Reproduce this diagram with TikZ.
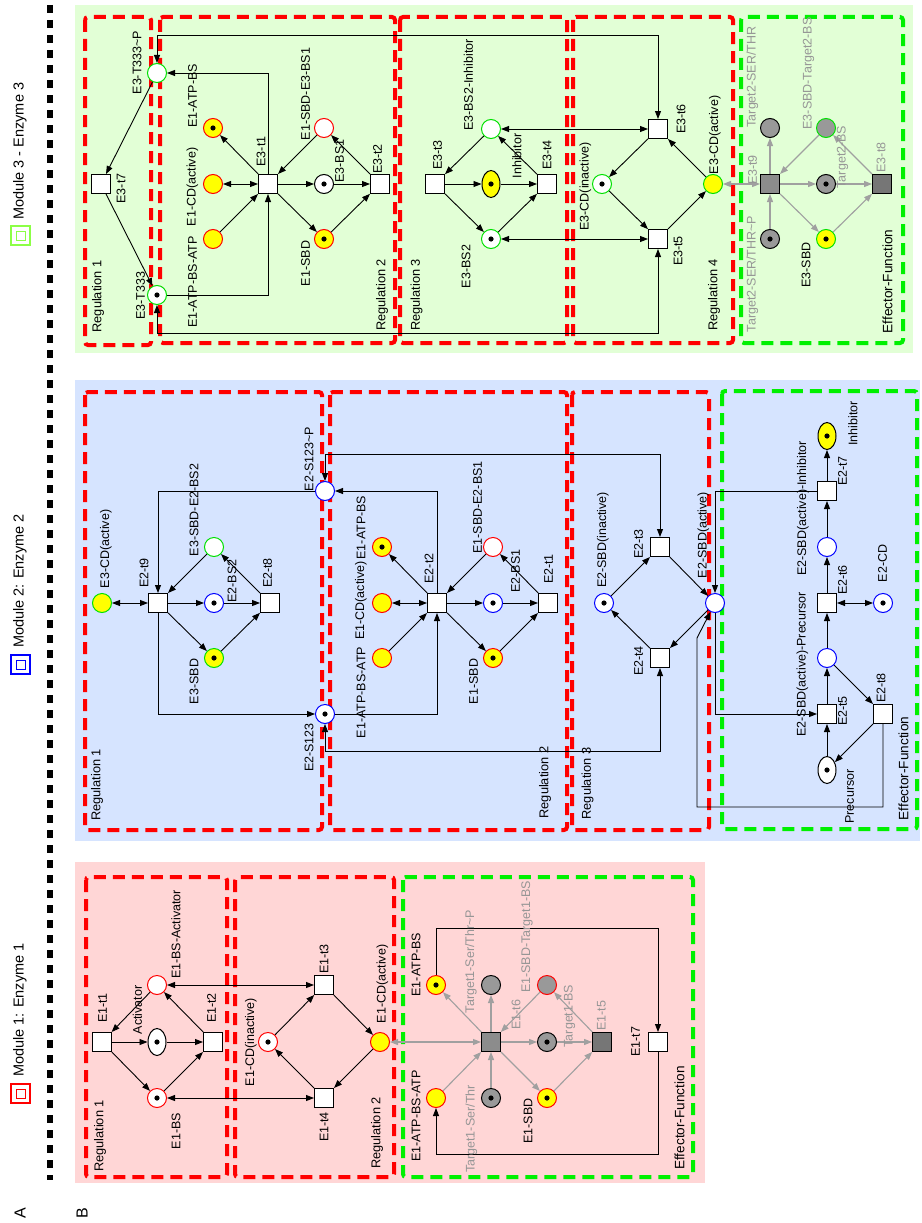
\documentclass[tikz,border=0pt]{standalone}
\usepackage{fontspec}
\setmainfont{Liberation Sans}
\usetikzlibrary{arrows.meta,shapes.geometric}
\definecolor{bgP}{RGB}{255,214,214}
\definecolor{bgB}{RGB}{214,228,255}
\definecolor{bgG}{RGB}{226,255,214}
\definecolor{cRed}{RGB}{255,0,0}
\definecolor{cGrn}{RGB}{0,225,0}
\definecolor{cBoxG}{RGB}{0,240,0}
\definecolor{cBlu}{RGB}{0,0,255}
\definecolor{cYel}{RGB}{255,255,0}
\definecolor{cGfill}{RGB}{153,153,153}
\definecolor{cGtr}{RGB}{140,140,140}
\definecolor{cGtrD}{RGB}{118,118,118}
\definecolor{cGarc}{RGB}{160,160,160}
\definecolor{cGlab}{RGB}{150,150,150}
\definecolor{cLeg}{RGB}{140,255,70}
\newcommand{\tld}{\textasciitilde}
\tikzset{
 pl/.style={circle,draw,line width=1pt,minimum size=19pt,inner sep=0pt,fill=white},
 tok/.style={path picture={\fill[black] (path picture bounding box.center) circle (2.6pt);}},
 pr/.style={pl,draw=cRed},
 py/.style={pl,draw=cRed,fill=cYel},
 pg/.style={pl,draw=cGrn},
 pyg/.style={pl,draw=cGrn,fill=cYel},
 pb/.style={pl,draw=cBlu},
 pgr/.style={pl,draw=black,fill=cGfill},
 pgrr/.style={pl,draw=cRed,fill=cGfill},
 pgrg/.style={pl,draw=cGrn,fill=cGfill},
 pw/.style={pl,draw=black},
 tr/.style={rectangle,draw=black,line width=1pt,fill=white,minimum size=19pt,inner sep=0pt},
 gtr/.style={tr,fill=cGtr},
 gtrd/.style={tr,fill=cGtrD},
 elw/.style={ellipse,draw=black,line width=1pt,fill=white,minimum width=18pt,minimum height=27pt,inner sep=0pt},
 ely/.style={elw,fill=cYel},
 ar/.style={draw=black,line width=0.9pt,-{Triangle[length=8pt,width=6pt]}},
 dar/.style={draw=black,line width=0.9pt,{Triangle[length=8pt,width=6pt]}-{Triangle[length=8pt,width=6pt]}},
 gar/.style={draw=cGarc,line width=1.1pt,-{Triangle[length=8pt,width=6pt]}},
 gdar/.style={draw=cGarc,line width=1.1pt,{Triangle[length=8pt,width=6pt]}-{Triangle[length=8pt,width=6pt]}},
 lb/.style={rotate=90,inner sep=0pt,font=\fontsize{12.5}{14}\selectfont},
 glb/.style={lb,text=cGlab},
 rl/.style={rotate=90,inner sep=0pt,font=\fontsize{12.8}{15}\selectfont},
 efl/.style={rotate=90,inner sep=0pt,font=\fontsize{13.6}{16}\selectfont},
 rbox/.style={draw=cRed,line width=4pt,dash pattern=on 12pt off 7pt,rounded corners=3pt},
 gbox/.style={rbox,draw=cBoxG},
 legt/.style={rotate=90,inner sep=0pt,anchor=west,font=\fontsize{14.5}{17}\selectfont},
}
\newcommand{\Lb}[4][lb]{\node[#1] (#2) at (#3) {#4};}
\begin{document}
\begin{tikzpicture}[x=1pt,y=-1pt]
\useasboundingbox (0,0) rectangle (921,1223);
\fill[white] (0,0) rectangle (921,1223);
% panels
\fill[bgG] (75,5) rectangle (913,353);
\fill[bgB] (75,380) rectangle (920,841);
\fill[bgP] (75,862) rectangle (705,1183);
% separator and legend
\draw[line width=5.5pt,dash pattern=on 8pt off 7pt] (50,5) -- (50,1180);
\node[draw=cLeg,line width=1.3pt,minimum size=19pt,inner sep=0pt] (lg3) at (20.5,235.5) {};
\node[draw=cLeg,line width=1pt,minimum size=9pt,inner sep=0pt] (lg3i) at (lg3) {};
\node[legt] (lt3) at (20,220) {Module 3 - Enzyme 3};
\node[draw=cBlu,line width=1.3pt,minimum size=19pt,inner sep=0pt] (lg2) at (20.5,664.5) {};
\node[draw=cBlu,line width=1pt,minimum size=9pt,inner sep=0pt] (lg2i) at (lg2) {};
\node[legt] (lt2) at (20,648) {Module 2: Enzyme 2};
\node[draw=cRed,line width=1.3pt,minimum size=19pt,inner sep=0pt] (lg1) at (20.5,1093.5) {};
\node[draw=cRed,line width=1pt,minimum size=9pt,inner sep=0pt] (lg1i) at (lg1) {};
\node[legt] (lt1) at (20,1077) {Module 1: Enzyme 1};
\node[rotate=90,inner sep=0pt,font=\fontsize{16}{18}\selectfont] (LA) at (20,1213) {A};
\node[rotate=90,inner sep=0pt,font=\fontsize{16}{18}\selectfont] (LB) at (82,1213) {B};
% dashed boxes
\draw[rbox] (86,877) rectangle (227,1177);
\draw[rbox] (235,877) rectangle (394,1177);
\draw[gbox] (403,877) rectangle (693,1177);
\draw[rbox] (85,392) rectangle (322,830);
\draw[rbox] (330,392) rectangle (567,830);
\draw[rbox] (572,392) rectangle (709,830);
\draw[gbox] (722,391) rectangle (917,829);
\draw[rbox] (85,17) rectangle (151,345);
\draw[rbox] (160,17) rectangle (395,343);
\draw[rbox] (400,17) rectangle (567,343);
\draw[rbox] (573,17) rectangle (733,343);
\draw[gbox] (741,17) rectangle (903,343);
% ================= Module 1 =================
\node[tr] (m1t1) at (102,1042) {};
\node[elw,tok] (m1act) at (157,1042) {};
\node[tr] (m1t2) at (213,1042) {};
\node[pr] (m1bsa) at (157,985) {};
\node[pr,tok] (m1bs) at (157,1098) {};
\node[tr] (m1t3) at (324,985) {};
\node[tr] (m1t4) at (324,1098) {};
\node[pr,tok] (m1cdi) at (268,1042) {};
\node[py] (m1cda) at (380,1042) {};
\node[py,tok] (m1atpbs) at (436,985) {};
\node[py] (m1atpbsatp) at (436,1098) {};
\node[gtr] (m1t6) at (491,1042) {};
\node[pgr] (m1tp) at (491,985) {};
\node[pgr,tok] (m1ts) at (491,1098) {};
\node[pgr,tok] (m1tbs) at (547,1042) {};
\node[pgrr] (m1sbdt) at (547,985) {};
\node[py,tok] (m1sbd) at (547,1098) {};
\node[gtrd] (m1t5) at (602,1042) {};
\node[tr] (m1t7) at (658,1042) {};
\draw[ar] (m1bsa) -- (m1t1);
\draw[ar] (m1t1) -- (m1act);
\draw[ar] (m1t1) -- (m1bs);
\draw[ar] (m1act) -- (m1t2);
\draw[ar] (m1bs) -- (m1t2);
\draw[ar] (m1t2) -- (m1bsa);
\draw[dar] (m1bsa) -- (m1t3);
\draw[dar] (m1bs) -- (m1t4);
\draw[ar] (m1cdi) -- (m1t3);
\draw[ar] (m1t3) -- (m1cda);
\draw[ar] (m1cda) -- (m1t4);
\draw[ar] (m1t4) -- (m1cdi);
\draw[gdar] (m1cda) -- (m1t6);
\draw[gar] (m1t6) -- (m1atpbs);
\draw[gar] (m1atpbsatp) -- (m1t6);
\draw[gar] (m1t6) -- (m1tp);
\draw[gar] (m1ts) -- (m1t6);
\draw[gar] (m1sbdt) -- (m1t6);
\draw[gar] (m1t6) -- (m1tbs);
\draw[gar] (m1t6) -- (m1sbd);
\draw[gar] (m1tbs) -- (m1t5);
\draw[gar] (m1sbd) -- (m1t5);
\draw[gar] (m1t5) -- (m1sbdt);
\draw[ar] (m1atpbs) |- (658,928) -- (m1t7);
\draw[ar] (m1t7) |- (436,1154) -- (m1atpbsatp);
\Lb{a1}{102.5,1008}{E1-t1}
\Lb{a2}{137.5,1010}{Activator}
\Lb{a3}{211.5,1008}{E1-t2}
\Lb{a4}{176,934.5}{E1-BS-Activator}
\Lb{a5}{176,1131}{E1-BS}
\Lb[rl]{a6}{100,1136}{Regulation 1}
\Lb{a7}{251,1042}{E1-CD(inactive)}
\Lb{a8}{324,959}{E1-t3}
\Lb{a9}{324,1127}{E1-t4}
\Lb{a10}{382.5,984}{E1-CD(active)}
\Lb[rl]{a11}{377,1133}{Regulation 2}
\Lb{a12}{416,964.5}{E1-ATP-BS}
\Lb{a13}{416,1116}{E1-ATP-BS-ATP}
\Lb[glb]{a14}{471,961.5}{Target1-Ser/Thr\tld P}
\Lb[glb]{a15}{516,1014.5}{E1-t6}
\Lb[glb]{a16}{527,937}{E1-SBD-Target1-BS}
\Lb[glb]{a17}{569.5,1016}{Target1-BS}
\Lb[glb]{a18}{601.5,1015.5}{E1-t5}
\Lb{a19}{635.5,1041.5}{E1-t7}
\Lb{a20}{528,1121}{E1-SBD}
\Lb[glb]{a21}{471.5,1129}{Target1-Ser/Thr}
\Lb[efl]{a22}{679.5,1118}{Effector-Function}
% ================= Module 2 =================
\node[pyg] (m2e3cda) at (102,603) {};
\node[tr] (m2t9) at (158,603) {};
\node[pg] (m2e3sbdbs2) at (214,547) {};
\node[pb,tok] (m2bs2) at (214,603) {};
\node[pyg,tok] (m2e3sbd) at (214,658) {};
\node[tr] (m2t8) at (270,603) {};
\node[pb] (m2s123p) at (325,491) {};
\node[pb,tok] (m2s123) at (325,714) {};
\node[py,tok] (m2atpbs) at (382,547) {};
\node[py] (m2cda) at (382,603) {};
\node[py] (m2atpbsatp) at (382,658) {};
\node[tr] (m2t2) at (437,603) {};
\node[pr] (m2sbdbs1) at (493,547) {};
\node[pb,tok] (m2bs1) at (493,603) {};
\node[py,tok] (m2sbd) at (493,658) {};
\node[tr] (m2t1) at (548,603) {};
\node[pb,tok] (m2sbdi) at (604,603) {};
\node[tr] (m2t3) at (660,547) {};
\node[tr] (m2t4) at (660,658) {};
\node[pb] (m2sbda) at (715,603) {};
\node[ely,tok] (m2inh) at (827,436) {};
\node[tr] (m2t7) at (827,491) {};
\node[pb] (m2sai) at (827,547) {};
\node[tr] (m2t6) at (827,603) {};
\node[pb,tok] (m2cd) at (883,603) {};
\node[pb] (m2sap) at (827,658) {};
\node[tr] (m2t5) at (827,714) {};
\node[tr] (m2t8b) at (883,714) {};
\node[elw,tok] (m2pre) at (827,770) {};
\draw[dar] (m2e3cda) -- (m2t9);
\draw[ar] (m2e3sbdbs2) -- (m2t9);
\draw[ar] (m2t9) -- (m2bs2);
\draw[ar] (m2t9) -- (m2e3sbd);
\draw[ar] (m2bs2) -- (m2t8);
\draw[ar] (m2e3sbd) -- (m2t8);
\draw[ar] (m2t8) -- (m2e3sbdbs2);
\draw[ar] (m2s123p) -| (m2t9);
\draw[ar] (m2t9) |- (m2s123);
\draw[ar] (m2t2) |- (m2s123p);
\draw[ar] (m2s123) -| (m2t2);
\draw[dar] (m2s123p) |- (660,454) -- (m2t3);
\draw[dar] (m2s123) |- (660,751) -- (m2t4);
\draw[ar] (m2t2) -- (m2atpbs);
\draw[dar] (m2cda) -- (m2t2);
\draw[ar] (m2atpbsatp) -- (m2t2);
\draw[ar] (m2sbdbs1) -- (m2t2);
\draw[ar] (m2t2) -- (m2bs1);
\draw[ar] (m2t2) -- (m2sbd);
\draw[ar] (m2bs1) -- (m2t1);
\draw[ar] (m2sbd) -- (m2t1);
\draw[ar] (m2t1) -- (m2sbdbs1);
\draw[ar] (m2sbdi) -- (m2t3);
\draw[ar] (m2t3) -- (m2sbda);
\draw[ar] (m2sbda) -- (m2t4);
\draw[ar] (m2t4) -- (m2sbdi);
\draw[ar] (m2t7) -| (m2sbda);
\draw[ar] (m2sbda) |- (m2t5);
\draw[ar] (m2t8b) |- (697,807) -- (697,638) -- (m2sbda);
\draw[ar] (m2t7) -- (m2inh);
\draw[ar] (m2sai) -- (m2t7);
\draw[ar] (m2t6) -- (m2sai);
\draw[dar] (m2t6) -- (m2cd);
\draw[ar] (m2sap) -- (m2t6);
\draw[ar] (m2t5) -- (m2sap);
\draw[ar] (m2pre) -- (m2t5);
\draw[ar] (m2sap) -- (m2t8b);
\draw[ar] (m2t8b) -- (m2pre);
\Lb{b1}{106,549}{E3-CD(active)}
\Lb{b2}{144,573}{E2-t9}
\Lb{b3}{194,510}{E3-SBD-E2-BS2}
\Lb{b4}{232,581}{E2-BS2}
\Lb{b5}{267.5,573}{E2-t8}
\Lb{b6}{194,681.5}{E3-SBD}
\Lb{b7}{309,459}{E2-S123\tld P}
\Lb{b8}{309,747.5}{E2-S123}
\Lb[rl]{b9}{97,785}{Regulation 1}
\Lb{b10}{361,527.5}{E1-ATP-BS}
\Lb{b11}{361,600.5}{E1-CD(active)}
\Lb{b12}{361,692.5}{E1-ATP-BS-ATP}
\Lb{b13}{429,568.5}{E2-t2}
\Lb{b14}{477.5,507.5}{E1-SBD-E2-BS1}
\Lb{b15}{515.5,571}{E2-BS1}
\Lb{b16}{548.5,569}{E2-t1}
\Lb{b17}{473.5,681.5}{E1-SBD}
\Lb[rl]{b18}{545,782.5}{Regulation 2}
\Lb{b19}{603,540}{E2-SBD(inactive)}
\Lb{b20}{638.5,544}{E2-t3}
\Lb{b21}{638.5,661}{E2-t4}
\Lb{b22}{703.5,535}{E2-SBD(active)}
\Lb[rl]{b23}{587.5,783.5}{Regulation 3}
\Lb{b24}{853,423.5}{Inhibitor}
\Lb{b25}{842.5,471}{E2-t7}
\Lb{b26}{803,508.5}{E2-SBD(active)-Inhibitor}
\Lb{b27}{842.5,580}{E2-t6}
\Lb{b28}{882.5,563.5}{E2-CD}
\Lb{b29}{802.5,664.5}{E2-SBD(active)-Precursor}
\Lb{b30}{842.5,711}{E2-t5}
\Lb{b31}{881,688}{E2-t8}
\Lb{b32}{849.5,796.5}{Precursor}
\Lb[efl]{b33}{903.5,768.5}{Effector-Function}
% ================= Module 3 =================
\node[pg] (m3tp) at (157,73) {};
\node[tr] (m3t7) at (101,184) {};
\node[pg,tok] (m3t) at (157,295) {};
\node[py,tok] (m3atpbs) at (213,128) {};
\node[py] (m3cda) at (213,184) {};
\node[py] (m3atpbsatp) at (213,239) {};
\node[tr] (m3t1) at (268,184) {};
\node[pr] (m3sbdbs1) at (324,128) {};
\node[pw,tok] (m3bs1) at (324,184) {};
\node[py,tok] (m3sbd) at (324,239) {};
\node[tr] (m3t2) at (380,184) {};
\node[pg] (m3bs2i) at (491,129) {};
\node[tr] (m3t3) at (435,184) {};
\node[ely,tok] (m3inh) at (491,184) {};
\node[tr] (m3t4) at (547,184) {};
\node[pg,tok] (m3bs2) at (491,239) {};
\node[tr] (m3t6) at (658,129) {};
\node[pg,tok] (m3cdi) at (602,184) {};
\node[tr] (m3t5) at (658,239) {};
\node[pyg] (m3cda2) at (713,184) {};
\node[pgr] (m3tst) at (770,128) {};
\node[gtr] (m3t9) at (770,184) {};
\node[pgr,tok] (m3tstp) at (770,239) {};
\node[pgrg] (m3sbdt) at (826,128) {};
\node[pgr,tok] (m3tbs) at (826,184) {};
\node[pyg,tok] (m3sbd3) at (826,239) {};
\node[gtrd] (m3t8) at (882,184) {};
\draw[ar] (m3tp) -- (m3t7);
\draw[ar] (m3t7) -- (m3t);
\draw[ar] (m3t1) |- (m3tp);
\draw[ar] (m3t) -| (m3t1);
\draw[dar] (m3tp) |- (658,35) -- (m3t6);
\draw[dar] (m3t) |- (658,333) -- (m3t5);
\draw[ar] (m3t1) -- (m3atpbs);
\draw[dar] (m3cda) -- (m3t1);
\draw[ar] (m3atpbsatp) -- (m3t1);
\draw[ar] (m3sbdbs1) -- (m3t1);
\draw[ar] (m3t1) -- (m3bs1);
\draw[ar] (m3t1) -- (m3sbd);
\draw[ar] (m3bs1) -- (m3t2);
\draw[ar] (m3sbd) -- (m3t2);
\draw[ar] (m3t2) -- (m3sbdbs1);
\draw[ar] (m3bs2i) -- (m3t3);
\draw[ar] (m3t3) -- (m3inh);
\draw[ar] (m3t3) -- (m3bs2);
\draw[ar] (m3inh) -- (m3t4);
\draw[ar] (m3bs2) -- (m3t4);
\draw[ar] (m3t4) -- (m3bs2i);
\draw[dar] (m3bs2i) -- (m3t6);
\draw[dar] (m3bs2) -- (m3t5);
\draw[ar] (m3t6) -- (m3cdi);
\draw[ar] (m3cdi) -- (m3t5);
\draw[ar] (m3t5) -- (m3cda2);
\draw[ar] (m3cda2) -- (m3t6);
\draw[gdar] (m3cda2) -- (m3t9);
\draw[gar] (m3t9) -- (m3tst);
\draw[gar] (m3tstp) -- (m3t9);
\draw[gar] (m3sbdt) -- (m3t9);
\draw[gar] (m3t9) -- (m3tbs);
\draw[gar] (m3t9) -- (m3sbd3);
\draw[gar] (m3tbs) -- (m3t8);
\draw[gar] (m3sbd3) -- (m3t8);
\draw[gar] (m3t8) -- (m3sbdt);
\Lb{c1}{137,62.5}{E3-T333\tld P}
\Lb{c2}{192.5,96}{E1-ATP-BS}
\Lb{c3}{192.5,187}{E1-CD(active)}
\Lb{c4}{192.5,282}{E1-ATP-BS-ATP}
\Lb{c5}{261,151.5}{E3-t1}
\Lb{c6}{305.5,94}{E1-SBD-E3-BS1}
\Lb{c7}{339.5,161}{E3-BS1}
\Lb{c8}{377.5,159}{E3-t2}
\Lb{c9}{305.5,263.5}{E1-SBD}
\Lb{c10}{121,188.5}{E3-t7}
\Lb{c11}{140.5,295.5}{E3-T333}
\Lb[rl]{c12}{98,296.5}{Regulation 1}
\Lb[rl]{c13}{382,295}{Regulation 2}
\Lb{c14}{468.5,85}{E3-BS2-Inhibitor}
\Lb{c15}{437.5,155}{E3-t3}
\Lb{c16}{517,156}{Inhibitor}
\Lb{c17}{547,155}{E3-t4}
\Lb{c18}{466,266.5}{E3-BS2}
\Lb{c19}{585.5,186.5}{E3-CD(inactive)}
\Lb{c20}{681,119}{E3-t6}
\Lb{c21}{678,251}{E3-t5}
\Lb{c22}{715,135}{E3-CD(active)}
\Lb[rl]{c23}{416.5,295}{Regulation 3}
\Lb[rl]{c24}{714,295}{Regulation 4}
\Lb[glb]{c25}{752.5,77}{Target2-SER/THR}
\Lb[glb]{c26}{752.5,170}{E3-t9}
\Lb[glb]{c27}{752.5,274}{Target2-SER/THR\tld P}
\Lb[glb]{c28}{808.5,73.5}{E3-SBD-Target2-BS}
\Lb[glb]{c29}{842.5,157}{Target2-BS}
\Lb[glb]{c30}{881,157.5}{E3-t8}
\Lb{c31}{806,265}{E3-SBD}
\Lb[efl]{c32}{887.5,281.5}{Effector-Function}
\end{tikzpicture}
\end{document}
